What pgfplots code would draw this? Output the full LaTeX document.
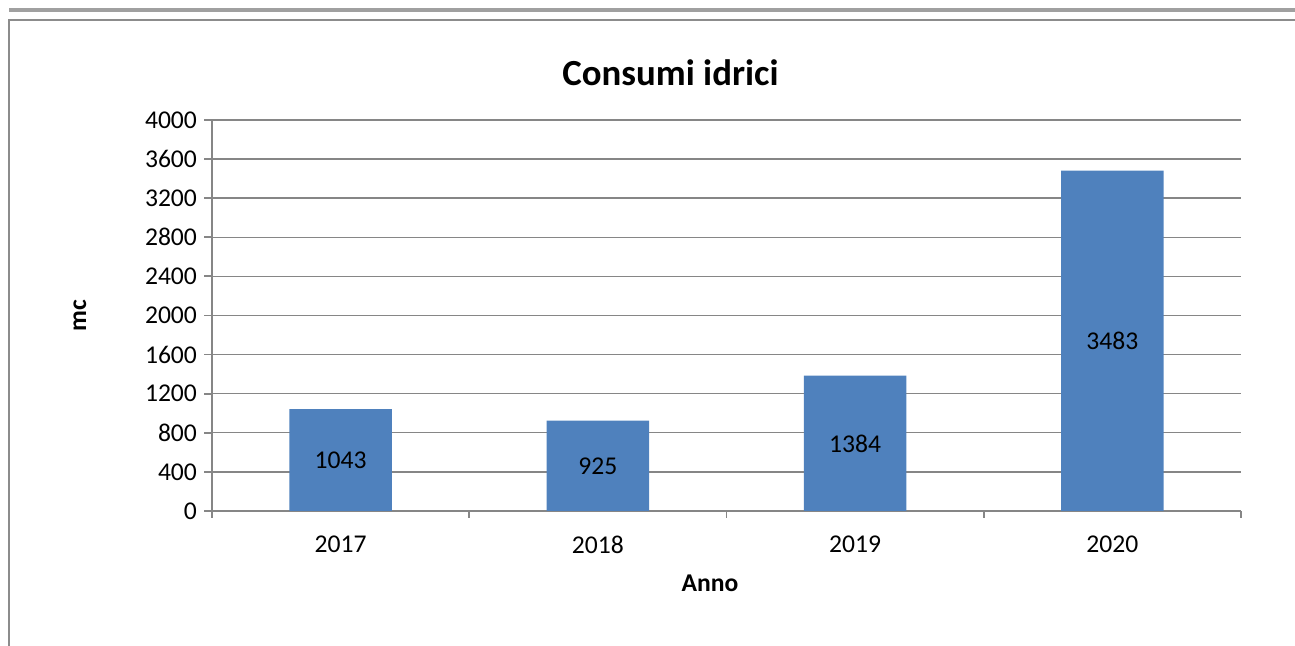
\documentclass[border=0pt]{standalone}
\usepackage{fontspec}
\setmainfont{Carlito}
\usepackage{pgfplots}
\pgfplotsset{compat=1.18}
\definecolor{barblue}{HTML}{4F81BD}
\definecolor{gridgray}{HTML}{868686}
\definecolor{framegray}{HTML}{8C8C8C}
\definecolor{topgray}{HTML}{A0A0A0}
\begin{document}
\begin{tikzpicture}[x=1pt,y=1pt]
\useasboundingbox (0,0) rectangle (647.5,323);
\draw[line width=1.6pt, topgray] (4.5,318) -- (647.5,318);
\draw[line width=0.9pt, framegray] (4.5,0) -- (4.5,313) -- (647.5,313);
\node[font=\bfseries\fontsize{18.4}{22}\selectfont] at (335.25,286.5) {Consumi idrici};
\begin{axis}[
  at={(106pt,67.5pt)}, anchor=south west,
  width=514.5pt, height=195.5pt, scale only axis,
  xmin=-0.5, xmax=3.5, ymin=0, ymax=4000,
  ybar, bar width=51.3pt,
  xtick={0,1,2,3}, xticklabels={2017,2018,2019,2020},
  major x tick style={draw=none},
  minor xtick={-0.5,0.5,1.5,2.5,3.5},
  ytick={0,400,...,4000},
  tick align=outside,
  major tick length=4pt, minor tick length=3.5pt,
  axis x line*=bottom, axis y line*=left,
  axis line style={-, gridgray, line width=0.9pt},
  ymajorgrids, grid style={gridgray, line width=0.7pt},
  tick style={gridgray, line width=0.9pt},
  /pgf/number format/assume math mode=true,
  /pgf/number format/1000 sep={},
  ticklabel style={font=\fontsize{12.8}{15}\selectfont, text=black},
  xticklabel style={yshift=-5pt},
  xlabel={Anno}, ylabel={mc},
  xlabel style={at={(axis description cs:0.484,-0.1841)}, anchor=center, font=\bfseries\fontsize{12.8}{15}\selectfont},
  ylabel style={at={(axis description cs:-0.1283,0.5)}, anchor=center, font=\bfseries\fontsize{12.8}{15}\selectfont},
  clip=false,
]
\addplot[fill=barblue, draw=none,
  visualization depends on={rawy \as \rawy},
  nodes near coords,
  nodes near coords style={/pgf/number format/fixed, /pgf/number format/precision=0},
  every node near coord/.append style={anchor=center, text=black, font=\fontsize{12.8}{15}\selectfont, yshift={-\rawy*0.0244375}}
] coordinates {(0,1043) (1,925) (2,1384) (3,3483)};
\end{axis}
\end{tikzpicture}
\end{document}
